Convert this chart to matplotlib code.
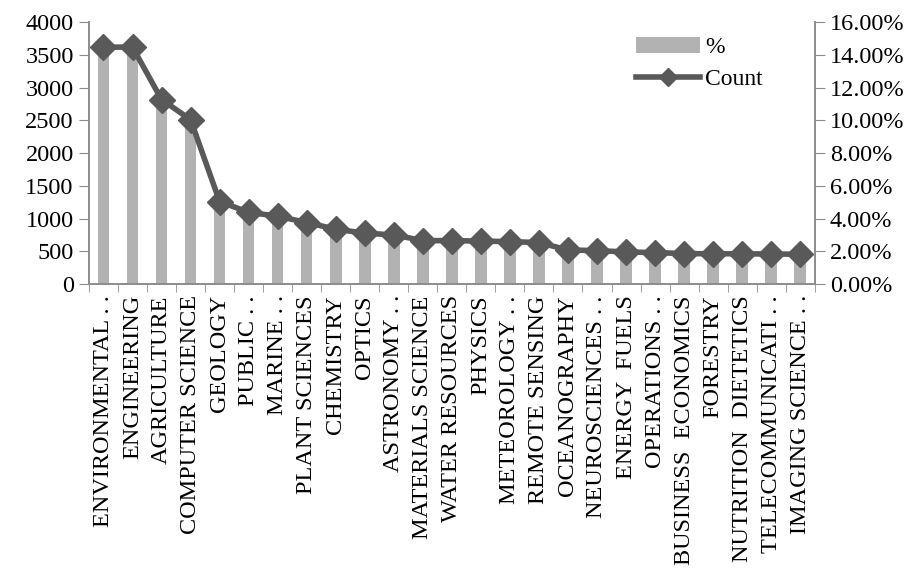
import numpy as np
import matplotlib
matplotlib.use('Agg')
import matplotlib.pyplot as plt
from matplotlib.ticker import FuncFormatter, FixedLocator

plt.rcParams['font.family'] = ['Liberation Serif', 'DejaVu Serif']

categories = ['ENVIRONMENTAL . .', 'ENGINEERING', 'AGRICULTURE', 'COMPUTER SCIENCE',
              'GEOLOGY', 'PUBLIC . .', 'MARINE . .', 'PLANT SCIENCES', 'CHEMISTRY',
              'OPTICS', 'ASTRONOMY . .', 'MATERIALS SCIENCE', 'WATER RESOURCES',
              'PHYSICS', 'METEOROLOGY . .', 'REMOTE SENSING', 'OCEANOGRAPHY',
              'NEUROSCIENCES . .', 'ENERGY  FUELS', 'OPERATIONS . .',
              'BUSINESS  ECONOMICS', 'FORESTRY', 'NUTRITION  DIETETICS',
              'TELECOMMUNICATI . .', 'IMAGING SCIENCE . .']
counts = [3617, 3617, 2817, 2510, 1260, 1095, 1035, 939, 837, 776, 750, 663, 663,
          655, 648, 633, 520, 510, 490, 480, 465, 462, 462, 458, 455]
pct = [14.47, 14.47, 11.27, 10.04, 5.04, 4.38, 4.14, 3.76, 3.35, 3.10, 3.00, 2.65, 2.65,
       2.62, 2.59, 2.53, 2.08, 2.04, 1.96, 1.92, 1.86, 1.85, 1.85, 1.83, 1.82]

x = np.arange(len(categories))
grey_axis = '#8c8c8c'

fig = plt.figure(figsize=(9.21, 5.80), dpi=100)
ax = fig.add_axes([0.0966, 0.5103, 0.788, 0.4517])
ax2 = ax.twinx()

# bars = % (right axis), line = Count (left axis)
bars = ax2.bar(x, pct, width=0.4, color='#b2b2b2', zorder=1)
ax2.set_ylim(0, 16)
ax2.set_yticks(np.arange(0, 17, 2))
ax2.yaxis.set_major_formatter(FuncFormatter(lambda v, p: '%.2f%%' % v))

line, = ax.plot(x, counts, color='#595959', lw=4, marker='D', markersize=13,
                zorder=3)
ax.set_zorder(ax2.get_zorder() + 1)
ax.patch.set_visible(False)
ax.set_ylim(0, 4000)
ax.set_yticks(np.arange(0, 4001, 500))
ax.set_xlim(-0.5, len(categories) - 0.5)

ax.set_xticks(x)
ax.set_xticklabels(categories, rotation=90, ha='center', va='top', fontsize=17.5)
ax.tick_params(axis='x', length=0, pad=8)
ax.xaxis.set_minor_locator(FixedLocator(np.arange(-0.5, len(categories), 1)))
ax.tick_params(axis='x', which='minor', length=6, color=grey_axis, direction='out')

ax.tick_params(axis='y', labelsize=17.5, length=7, color=grey_axis, pad=4)
ax2.tick_params(axis='y', labelsize=17.5, length=7, color=grey_axis, pad=4)

for a in (ax, ax2):
    a.spines['top'].set_visible(False)
    for s in ('left', 'right', 'bottom'):
        a.spines[s].set_color(grey_axis)
        a.spines[s].set_linewidth(1.2)

ax.legend([bars, line], ['%', 'Count'], loc='upper left', bbox_to_anchor=(0.725, 1.025),
          frameon=False, fontsize=17, handlelength=2.7, handletextpad=0.2,
          labelspacing=0.45, markerscale=0.7)

fig.savefig('out.png', dpi=100)
